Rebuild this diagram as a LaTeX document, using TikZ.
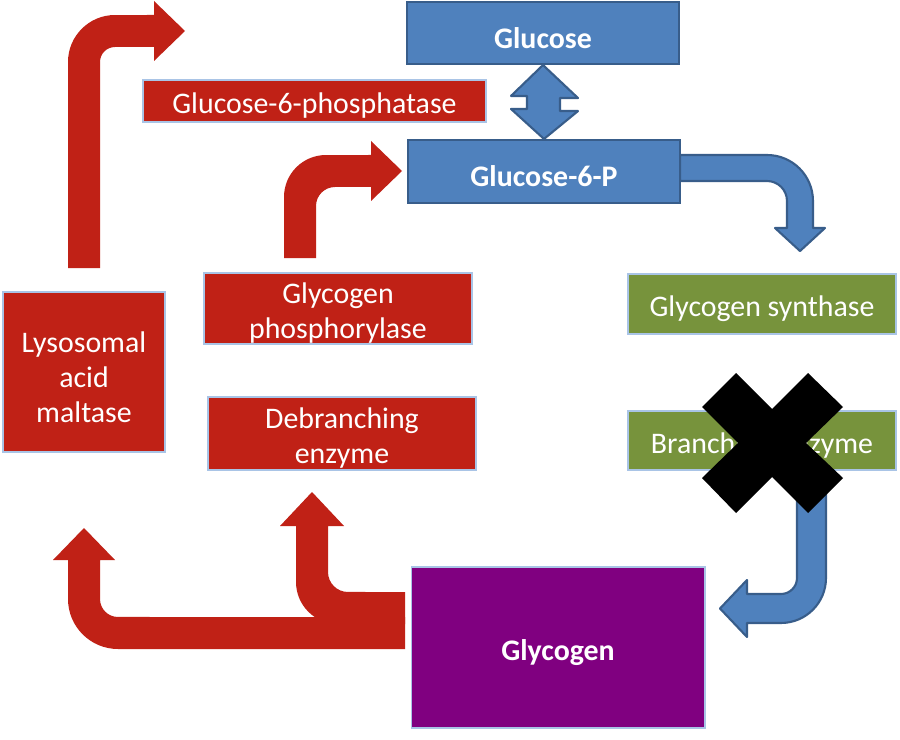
\documentclass[tikz,border=0pt]{standalone}
\usepackage{fontspec}
\setmainfont{Carlito}

\definecolor{enzred}{RGB}{192,33,22}
\definecolor{enzgreen}{RGB}{119,147,60}
\definecolor{sugarblue}{RGB}{79,129,189}
\definecolor{sugaredge}{RGB}{56,93,138}
\definecolor{boxedge}{RGB}{169,196,230}
\definecolor{storepurple}{RGB}{128,0,128}

\newcommand{\topstrut}{\rule{0pt}{17.5pt}}

\begin{document}
\begin{tikzpicture}[x=0.02cm,y=-0.02cm,
	box/.style={draw=boxedge,line width=1.2pt,inner sep=0pt,align=center,text=white,
		font=\fontsize{17}{19.9}\selectfont},
	redbox/.style={box,fill=enzred},
	greenbox/.style={box,fill=enzgreen},
	bluebox/.style={box,fill=sugarblue,draw=sugaredge,font=\fontsize{17}{19.9}\selectfont\bfseries},
	blockred/.style={fill=enzred},
	blockblue/.style={fill=sugarblue,draw=sugaredge,line width=1.2pt,line join=round}]

	\fill[white] (0,0) rectangle (900,740);
	\useasboundingbox (0,0) rectangle (900,740);

	% red arrows out of glycogen
	\fill[blockred] (405,649) -- (118,649) arc[start angle=-90,end angle=-180,radius=1cm]
		-- (68,560) -- (53,560) -- (84,528) coordinate (tolam) -- (115,560) -- (100,560)
		-- (100,599) arc[start angle=180,end angle=270,radius=0.36cm] -- (405,617) -- cycle;

	\fill[blockred] (405,624) -- (338,624) arc[start angle=270,end angle=180,radius=0.84cm]
		-- (296,526) -- (280,526) -- (312,492) coordinate (todeb) -- (344,526) -- (328,526)
		-- (328,572) arc[start angle=180,end angle=270,radius=0.4cm] -- (405,592) -- cycle;

	% red arrows up to glucose
	\fill[blockred] (68,268) -- (68,62) arc[start angle=180,end angle=90,radius=0.94cm]
		-- (154,15) -- (154,1) -- (185,31) coordinate (toglc) -- (154,61) -- (154,47)
		-- (115,47) arc[start angle=90,end angle=180,radius=0.3cm] -- (100,268) -- cycle;

	\fill[blockred] (284,258) -- (284,197) arc[start angle=180,end angle=90,radius=0.84cm]
		-- (371,155) -- (371,141) -- (402,171) coordinate (tog6p) -- (371,201) -- (371,187)
		-- (335,187) arc[start angle=90,end angle=180,radius=0.38cm] -- (316,258) -- cycle;

	% blue arrows
	\draw[blockblue] (680,155) -- (767,155) arc[start angle=90,end angle=0,radius=0.92cm]
		-- (813,228) -- (825,228) -- (800,251) coordinate (togs) -- (775,228) -- (787,228)
		-- (787,201) arc[start angle=0,end angle=90,radius=0.4cm] -- (680,181) -- cycle;

	\draw[blockblue] (797,470) -- (826,470) -- (826,578) arc[start angle=0,end angle=-90,radius=0.9cm]
		-- (747,623) -- (747,637) -- (720,608.5) coordinate (toglyc) -- (747,580) -- (747,594)
		-- (781,594) arc[start angle=-90,end angle=0,radius=0.32cm] -- cycle;

	% boxes
	\node[bluebox,minimum width=5.44cm,minimum height=1.24cm] (glc) at (543,33) {\topstrut Glucose};

	\node[bluebox,minimum width=5.44cm,minimum height=1.26cm] (g6p) at (544,171.5) {\topstrut Glucose-6-P};

	\draw[blockblue] (glc.south) -- ++(35,33) -- ++(-18,0) -- ++(0,13) -- ++(18,0) -- (g6p.north)
		-- ++(-33,-30) -- ++(16,0) -- ++(0,-13) -- ++(-16,0) -- cycle;

	\node[redbox,minimum width=6.86cm,minimum height=0.84cm] (g6pase) at (314.5,101) {\topstrut Glucose-6-phosphatase};

	\node[redbox,minimum width=5.36cm,minimum height=1.38cm] (gp) at (338,308.5) {\topstrut Glycogen\\phosphorylase};

	\node[redbox,minimum width=3.24cm,minimum height=3.2cm] (lam) at (84,372) {\topstrut Lysosomal\\acid\\maltase};

	\node[redbox,minimum width=5.36cm,minimum height=1.46cm] (deb) at (342,433.5) {\topstrut Debranching\\enzyme};

	\node[greenbox,minimum width=5.36cm,minimum height=1.2cm] (gs) at (762,304) {\topstrut Glycogen synthase};

	\node[greenbox,minimum width=5.36cm,minimum height=1.18cm] (be) at (762,440.5) {\topstrut Branching enzyme};

	\node[box,fill=storepurple,line width=0.6pt,minimum width=5.88cm,minimum height=3.22cm,
		font=\fontsize{17}{19.9}\selectfont\bfseries] (glyc) at (558,647.5) {\topstrut Glycogen};

	% cross over branching enzyme
	\fill[black] (736,373) -- (772,409) -- (808,373) -- (843,407) -- (806,443) -- (843,478)
		-- (808,513) -- (772,477) -- (736,513) -- (702,478) -- (738,443) -- (702,407) -- cycle;

\end{tikzpicture}
\end{document}
